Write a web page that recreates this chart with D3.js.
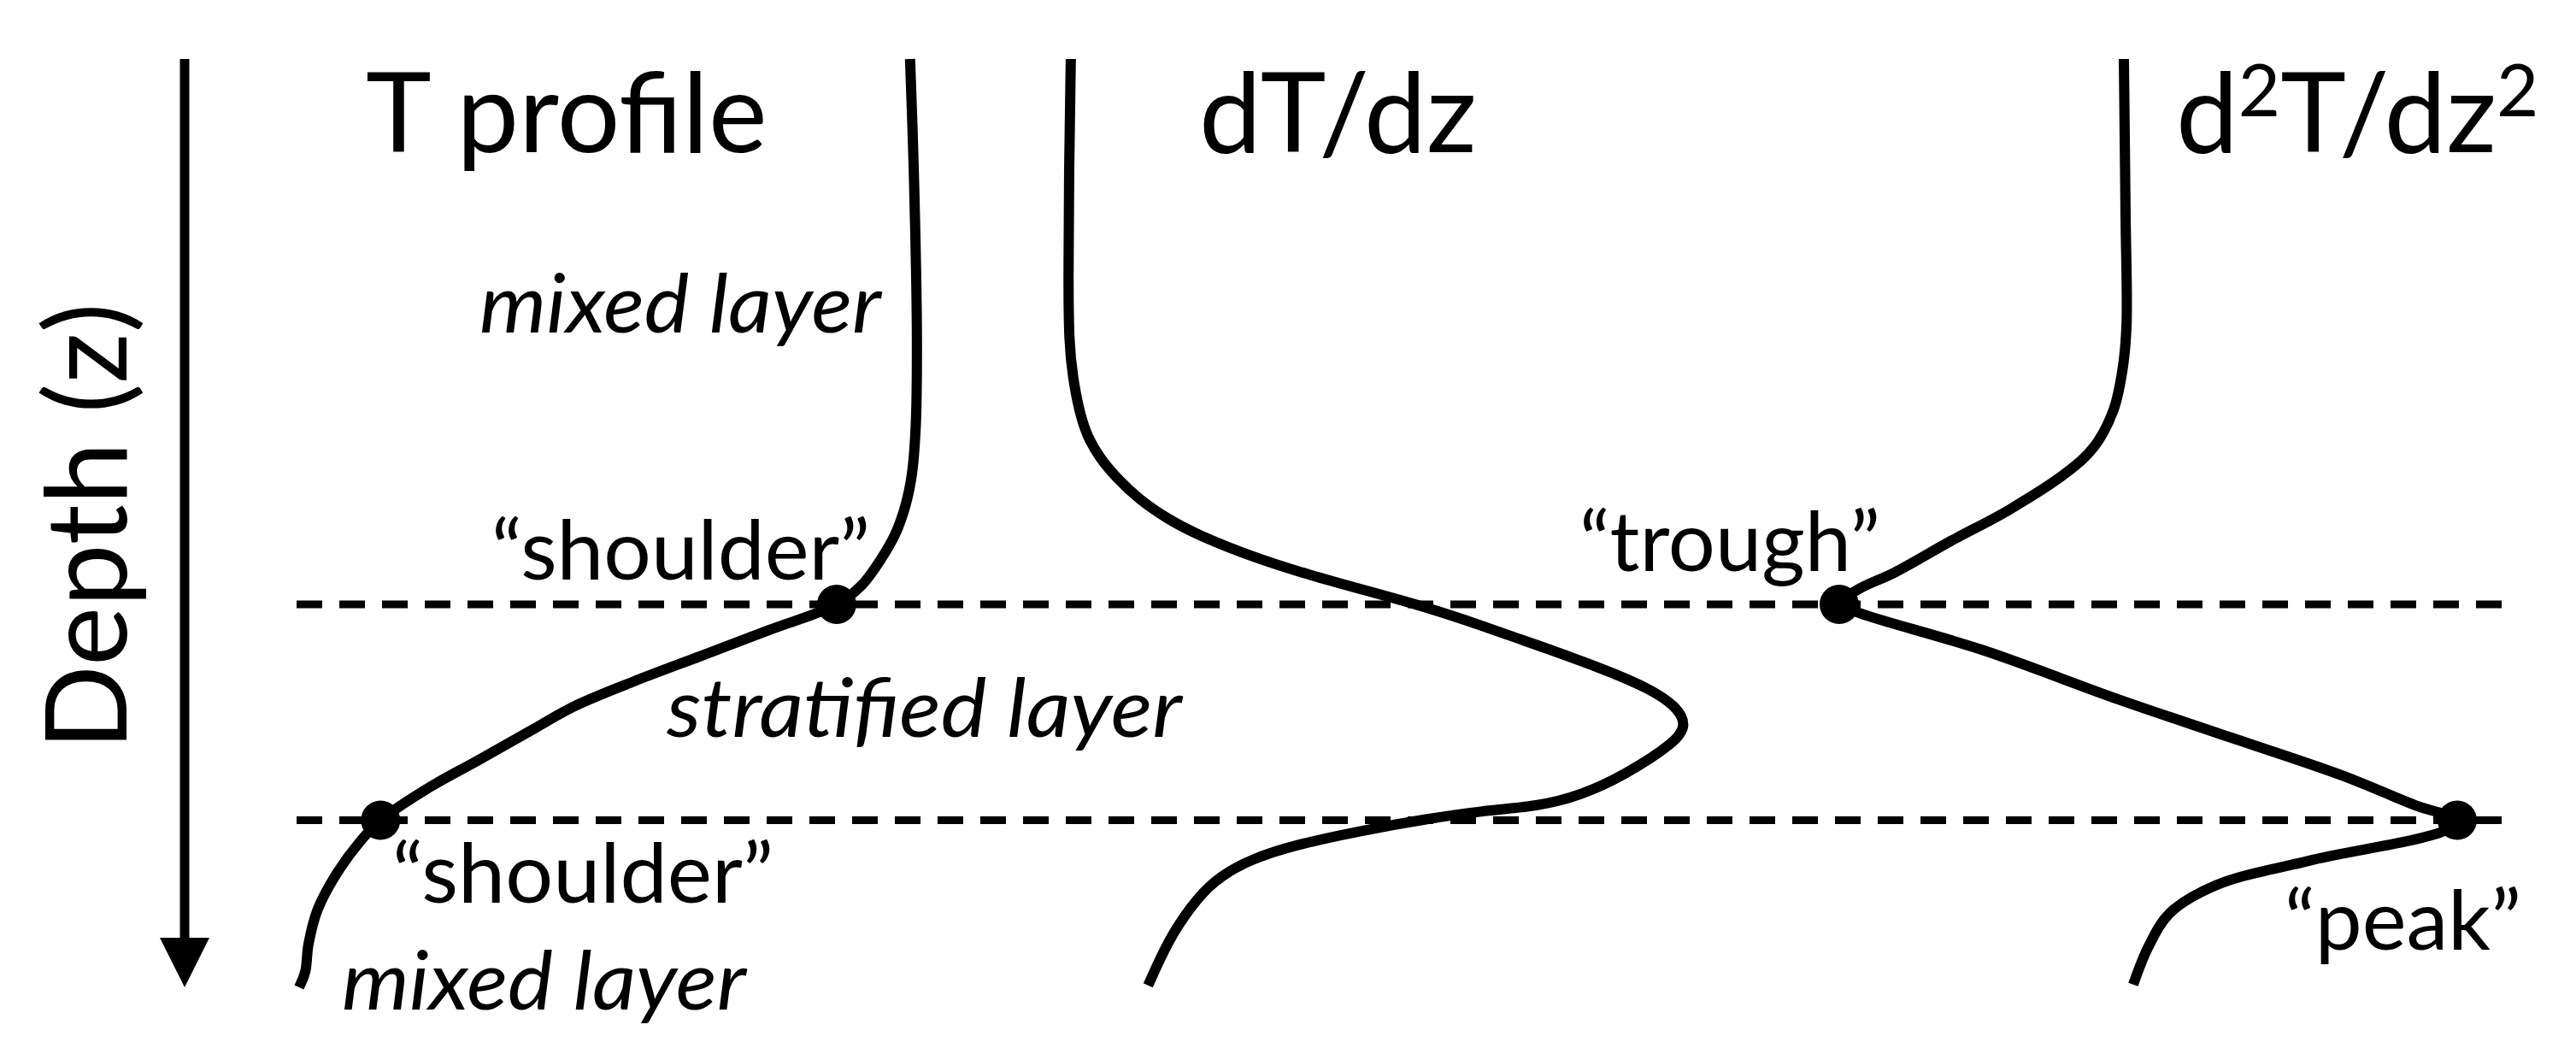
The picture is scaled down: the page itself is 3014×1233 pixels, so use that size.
<!DOCTYPE html>
<html>
<head>
<meta charset="utf-8">
<script src="https://cdn.jsdelivr.net/npm/d3@7"></script>
<style>
  body { margin: 0; background: #fff; }
  text { font-family: Lato, "Open Sans", sans-serif; fill: #000; }
</style>
</head>
<body>
<svg id="chart"></svg>
<script>
// depth in relative units (0 = surface, 100 = bottom of sketch)
var depthT = [0, 12.1, 30, 39.7, 44.7, 48, 51.2, 54, 56.7, 58.75, 61.5, 64.3, 67.1, 69.8, 72.4, 75.5, 78.6, 82, 84.3, 87.9, 91.6, 95.4, 98.3, 100];
var tempT  = [98.6, 99.2, 99.7, 99.5, 98.9, 97.9, 96.2, 93.8, 90.8, 86.8, 76, 65, 54, 44.4, 37.5, 29.3, 21, 13.5, 10.2, 6.3, 3.4, 1.9, 1.4, 0.4];

var depthG = [0, 12.1, 24, 30.5, 34.2, 37.8, 40.6, 42.9, 45, 47.5, 49.6, 51.2, 53.7, 55.6, 57.3, 59, 61, 63.2, 65.5, 67.8, 69.8, 71.7, 73.5, 77.2, 79.3, 80.5, 81, 81.9, 83, 84.6, 86.3, 88.5, 91.3, 94.9, 99.8];
var gradG  = [0.4, 0.1, 0, 0.1, 0.7, 1.7, 3, 5, 7.6, 11.5, 16.2, 20.7, 30, 39.1, 48.4, 57.7, 66.8, 76.1, 85.8, 94.1, 98.5, 100, 98.5, 89.9, 83, 76.1, 66.8, 57.7, 48.4, 36.9, 29, 23.5, 19.8, 16.2, 12.9];

var depthC = [0, 16.7, 28.6, 33.2, 37.8, 41.8, 44.6, 48.6, 51.9, 55.3, 57.2, 58.75, 59.7, 63.7, 69, 73, 77.2, 80.5, 82, 83.1, 86.4, 89, 92, 95.6, 99.7];
var curvC  = [0, 0.5, 0.8, -0.3, -3.1, -9, -17.4, -34.6, -51.8, -68.7, -80, -85.4, -79.2, -42.1, -1.5, 31.3, 65.6, 88.2, 100, 96.4, 55.1, 27.7, 13.8, 7.4, 2.8];

var layerDepths = [58.75, 82];
var dotsT = [[58.75, 86.8], [82, 13.5]];
var dotsC = [[58.75, -85.4], [82, 100]];

var titles = ['T profile', 'dT/dz', 'd^2T/dz^2'];
var depthLabel = 'Depth (z)';

var W = 3014, H = 1233;
var svg = d3.select('#chart').attr('width', W).attr('height', H);
svg.append('rect').attr('width', W).attr('height', H).attr('fill', '#fff');

var y  = d3.scaleLinear().domain([0, 100]).range([69, 1155]);
var xT = d3.scaleLinear().domain([0, 100]).range([347, 1075]);
var xG = d3.scaleLinear().domain([0, 100]).range([1250, 1973]);
var xC = d3.scaleLinear().domain([-100, 100]).range([2095, 2875]);

// dashed layer boundaries
svg.selectAll('line.layer').data(layerDepths).enter().append('line')
	.attr('class', 'layer')
	.attr('x1', 347).attr('x2', 2940)
	.attr('y1', function(d){ return y(d); })
	.attr('y2', function(d){ return y(d); })
	.attr('stroke', '#000')
	.attr('stroke-width', 9)
	.attr('stroke-dasharray', '30 20');

function profile(xs, zs, vs, curve){
	var pts = zs.map(function(z, i){ return [xs(vs[i]), y(z)]; });
	svg.append('path')
		.attr('d', d3.line().curve(curve)(pts))
		.attr('fill', 'none')
		.attr('stroke', '#000')
		.attr('stroke-width', 12)
		.attr('stroke-linejoin', 'round');
}
profile(xT, depthT, tempT, d3.curveCatmullRom.alpha(0.5));
profile(xG, depthG, gradG, d3.curveBasis);
profile(xC, depthC, curvC, d3.curveCatmullRom.alpha(0.5));

svg.selectAll('circle.t').data(dotsT).enter().append('circle')
	.attr('cx', function(d){ return xT(d[1]); })
	.attr('cy', function(d){ return y(d[0]); })
	.attr('r', 23);
svg.selectAll('circle.c').data(dotsC).enter().append('circle')
	.attr('cx', function(d){ return xC(d[1]); })
	.attr('cy', function(d){ return y(d[0]); })
	.attr('r', 23);

// depth arrow
var ax = 216;
svg.append('line')
	.attr('x1', ax).attr('x2', ax)
	.attr('y1', y(0)).attr('y2', 1105)
	.attr('stroke', '#000').attr('stroke-width', 11);
svg.append('path')
	.attr('d', 'M' + (ax - 29) + ',1097L' + (ax + 29) + ',1097L' + ax + ',1155Z')
	.attr('fill', '#000');

svg.append('text')
	.attr('transform', 'translate(148,616) rotate(-90)')
	.attr('text-anchor', 'middle')
	.attr('font-size', 131)
	.text(depthLabel);

// panel titles, "^n" -> superscript
var titleX = [428, 1403, 2546];
titles.forEach(function(t, i){
	var el = svg.append('text').attr('x', titleX[i]).attr('y', 178).attr('font-size', 130);
	var parts = t.split(/\^(\d)/);
	parts.forEach(function(p, j){
		if (!p) return;
		if (j % 2 == 1){
			el.append('tspan').attr('font-size', 85).attr('dy', -42).text(p);
		} else {
			el.append('tspan').attr('dy', j > 0 ? 42 : 0).text(p);
		}
	});
});

// annotations
var notes = [
	{t: 'mixed layer',      x: 561,  y: 389,  w: 470, it: true},
	{t: '\u201cshoulder\u201d', x: 575,  y: 678,  w: 443},
	{t: 'stratified layer', x: 780,  y: 862,  w: 603, it: true},
	{t: '\u201cshoulder\u201d', x: 459,  y: 1056, w: 446},
	{t: 'mixed layer',      x: 400,  y: 1181, w: 473, it: true},
	{t: '\u201ctrough\u201d',   x: 1848, y: 668,  w: 352},
	{t: '\u201cpeak\u201d',     x: 2673, y: 1111, w: 277}
];
svg.selectAll('text.note').data(notes).enter().append('text')
	.attr('class', 'note')
	.attr('x', function(d){ return d.x; })
	.attr('y', function(d){ return d.y; })
	.attr('font-size', 96)
	.attr('font-style', function(d){ return d.it ? 'italic' : 'normal'; })
	.attr('textLength', function(d){ return d.w; })
	.attr('lengthAdjust', 'spacingAndGlyphs')
	.text(function(d){ return d.t; });
</script>
</body>
</html>
